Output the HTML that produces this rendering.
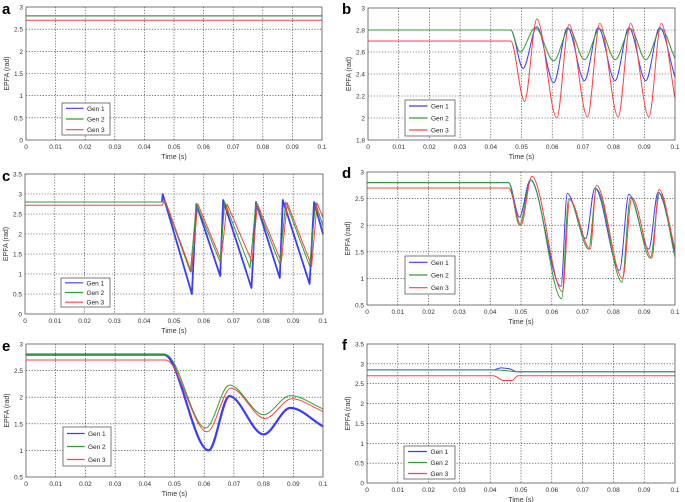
<!DOCTYPE html>
<html><head><meta charset="utf-8"><style>
body{margin:0;background:#fff;}
svg{display:block;font-family:"Liberation Sans",sans-serif;}
</style></head><body>
<svg id="fig" width="685" height="502" viewBox="0 0 685 502" xmlns="http://www.w3.org/2000/svg"></svg>
<script>
// Panel a
const aT1=[0,0.1], aG1=[2.8,2.8];
const aT2=[0,0.1], aG2=[2.8,2.8];
const aT3=[0,0.1], aG3=[2.7,2.7];
// Panel b
const bT1=[0,0.0465,0.0505,0.055,0.0605,0.065,0.0705,0.075,0.0805,0.085,0.0905,0.095,0.1];
const bG1=[2.8,2.8,2.45,2.83,2.32,2.82,2.34,2.82,2.34,2.82,2.34,2.82,2.37];
const bT2=[0,0.0465,0.0495,0.0545,0.0605,0.0655,0.0705,0.0755,0.0805,0.0855,0.0905,0.0955,0.1];
const bG2=[2.8,2.8,2.6,2.82,2.52,2.81,2.53,2.81,2.53,2.81,2.53,2.81,2.54];
const bT3=[0,0.0465,0.051,0.055,0.0615,0.0655,0.0715,0.0755,0.0815,0.0855,0.0915,0.0955,0.1];
const bG3=[2.7,2.7,2.15,2.9,2.0,2.85,2.01,2.86,2.01,2.86,2.01,2.86,2.18];
// Panel c
const cT1=[0.046,0.0462,0.056,0.0575,0.0655,0.0665,0.076,0.0775,0.0855,0.0865,0.0955,0.097,0.1];
const cG1=[2.8,3.0,0.5,2.75,0.95,2.85,0.65,2.8,0.9,2.85,0.75,2.8,2.0];
const cT2=[0,0.046,0.0468,0.0555,0.0575,0.0655,0.067,0.0755,0.0775,0.0855,0.0875,0.0955,0.0975,0.1];
const cG2=[2.8,2.8,2.85,1.05,2.75,1.3,2.8,1.15,2.78,1.25,2.8,1.2,2.78,2.2];
const cT3=[0,0.046,0.047,0.0558,0.058,0.0658,0.0678,0.0762,0.078,0.086,0.088,0.0962,0.098,0.1];
const cG3=[2.72,2.72,2.85,1.05,2.75,1.35,2.75,1.3,2.75,1.3,2.78,1.2,2.78,2.4];
// Panel d
const dT1=[0,0.046,0.0495,0.053,0.063,0.065,0.071,0.074,0.082,0.085,0.0915,0.0945,0.1];
const dG1=[2.8,2.8,2.15,2.85,0.85,2.6,1.75,2.7,1.15,2.58,1.55,2.62,1.5];
const dT2=[0,0.046,0.0495,0.0532,0.0632,0.0655,0.072,0.0745,0.0828,0.0855,0.092,0.095,0.1];
const dG2=[2.8,2.8,2.0,2.85,0.62,2.5,1.55,2.68,0.93,2.52,1.38,2.6,1.4];
const dT3=[0,0.046,0.05,0.0535,0.0635,0.0658,0.0725,0.0745,0.083,0.086,0.0925,0.0948,0.1];
const dG3=[2.7,2.7,2.0,2.92,0.75,2.48,1.55,2.75,1.0,2.52,1.38,2.67,1.55];
// Panel e
const eT1=[0,0.0465,0.0615,0.0685,0.08,0.089,0.1];
const eG1=[2.8,2.8,1.0,2.02,1.3,1.8,1.45];
const eT2=[0,0.047,0.0605,0.0685,0.08,0.089,0.1];
const eG2=[2.8,2.8,1.42,2.23,1.67,2.03,1.78];
const eT3=[0,0.047,0.061,0.069,0.0805,0.0895,0.1];
const eG3=[2.7,2.7,1.35,2.17,1.6,1.97,1.73];
// Panel f
const fT1=[0,0.041,0.0435,0.046,0.049,0.1];
const fG1=[2.85,2.85,2.9,2.88,2.8,2.8];
const fT2=[0,0.041,0.045,0.049,0.1];
const fG2=[2.85,2.85,2.83,2.8,2.8];
const fT3=[0,0.041,0.0445,0.047,0.049,0.1];
const fG3=[2.7,2.7,2.58,2.58,2.7,2.7];

const xTicks=[0,0.01,0.02,0.03,0.04,0.05,0.06,0.07,0.08,0.09,0.1];
const yTicksA=[0,0.5,1,1.5,2,2.5,3];
const yTicksB=[1.8,2,2.2,2.4,2.6,2.8,3];
const yTicksC=[0,0.5,1,1.5,2,2.5,3,3.5];
const yTicksD=[0.5,1,1.5,2,2.5,3];
const legendLabels=["Gen 1","Gen 2","Gen 3"];

const NS="http://www.w3.org/2000/svg";
const svg=document.getElementById('fig');
const COLORS=["#3b3bff","#2ea02e","#ff4040"];
function mk(tag,attrs,parent){const e=document.createElementNS(NS,tag);for(const k in attrs)e.setAttribute(k,attrs[k]);(parent||svg).appendChild(e);return e;}

const panels=[
 {id:'a',L:26,R:322,T:7,B:140,yt:yTicksA,s:[[aT1,aG1],[aT2,aG2],[aT3,aG3]],lg:[62,103,48,32],smooth:false,lx:2,ly:14},
 {id:'b',L:368,R:675,T:8,B:140,yt:yTicksB,s:[[bT1,bG1],[bT2,bG2],[bT3,bG3]],lg:[405,100,50,36],smooth:true,lx:342,ly:14},
 {id:'c',L:25,R:323,T:174,B:314,yt:yTicksC,s:[[cT1,cG1],[cT2,cG2],[cT3,cG3]],lg:[61,278,49,29],smooth:false,lx:2,ly:181,w1:1.8},
 {id:'d',L:367,R:675,T:172,B:305,yt:yTicksD,s:[[dT1,dG1],[dT2,dG2],[dT3,dG3]],lg:[405,256,50,38],smooth:true,lx:342,ly:178},
 {id:'e',L:26,R:323,T:344,B:477,yt:yTicksD,s:[[eT1,eG1],[eT2,eG2],[eT3,eG3]],lg:[63,427,48,39],smooth:true,lx:2,ly:351,w1:2.2},
 {id:'f',L:367,R:675,T:344,B:483,yt:yTicksC,s:[[fT1,fG1],[fT2,fG2],[fT3,fG3]],lg:[404,446,51,33],smooth:true,lx:342,ly:350}
];

function monoPath(pts){
 const n=pts.length;
 let d='M'+pts[0][0]+','+pts[0][1];
 if(n<3){for(let i=1;i<n;i++)d+=' L'+pts[i][0]+','+pts[i][1];return d;}
 const sl=[];for(let i=0;i<n-1;i++)sl.push((pts[i+1][1]-pts[i][1])/(pts[i+1][0]-pts[i][0]));
 const m=[];
 for(let i=0;i<n;i++){
  if(i===0)m.push(sl[0]===0?0:sl[0]);
  else if(i===n-1)m.push(sl[n-2]);
  else if(sl[i-1]*sl[i]<=0)m.push(0);
  else{const a=sl[i-1],b=sl[i];m.push(2/(1/a+1/b));}
 }
 for(let i=1;i<n;i++){
  const p1=pts[i-1],p2=pts[i],dx=p2[0]-p1[0];
  d+=` C${p1[0]+dx/3},${p1[1]+m[i-1]*dx/3} ${p2[0]-dx/3},${p2[1]-m[i]*dx/3} ${p2[0]},${p2[1]}`;
 }
 return d;
}

panels.forEach(p=>{
 const g=mk('g',{});
 
 
 const ymin=p.yt[0], ymax=p.yt[p.yt.length-1];
 const xs=v=>p.L+(v-0)/(0.1)*(p.R-p.L);
 const ys=v=>p.B-(v-ymin)/(ymax-ymin)*(p.B-p.T);
 const lab=mk('text',{x:p.lx,y:p.ly,'font-size':15,'font-weight':'bold',fill:'#000'},g);
 lab.textContent=p.id;
 
 
 mk('rect',{x:p.L,y:p.T,width:p.R-p.L,height:p.B-p.T,fill:'#fff',stroke:'none'},g);
 xTicks.forEach((t,i)=>{
  const x=xs(t);
  if(i>0&&i<xTicks.length-1){const l=mk('line',{x1:x,x2:x,y1:p.T,y2:p.B,stroke:'#222','stroke-width':0.6,'stroke-dasharray':'1.2,1.6'},g);
   }
  const tx=mk('text',{x:x,y:p.B+9,'font-size':6.5,'text-anchor':'middle',fill:'#333'},g);
  tx.textContent=String(t);
  
  
 });
 p.yt.forEach((t,i)=>{
  const y=ys(t);
  if(i>0&&i<p.yt.length-1){const l=mk('line',{x1:p.L,x2:p.R,y1:y,y2:y,stroke:'#222','stroke-width':0.6,'stroke-dasharray':'1.2,1.6'},g);
   }
  const tx=mk('text',{x:p.L-3,y:y+2.5,'font-size':6.5,'text-anchor':'end',fill:'#333'},g);
  tx.textContent=String(t);
  
  
 });
 const xt=mk('text',{x:(p.L+p.R)/2,y:p.B+19,'font-size':7,'text-anchor':'middle',fill:'#333'},g);
 xt.textContent='Time (s)';
 
 
 const cy=(p.T+p.B)/2, cx=p.L-17;
 const yt=mk('text',{x:cx,y:cy,'font-size':7,'text-anchor':'middle',fill:'#333',transform:`rotate(-90 ${cx} ${cy})`},g);
 yt.textContent='EPFA (rad)';
 
 
 p.s.forEach((s,k)=>{
  const [T,V]=s;
  const pts=T.map((t,i)=>[xs(t),ys(V[i])]);
  let d;
  if(p.smooth) d=monoPath(pts);
  else {d='M'+pts[0][0]+','+pts[0][1];for(let i=1;i<pts.length;i++)d+=' L'+pts[i][0]+','+pts[i][1];}
  const w=(k===0&&p.w1)?p.w1:1;
  const path=mk('path',{d:d,fill:'none',stroke:COLORS[k],'stroke-width':w,'stroke-linejoin':'round'},g);
  
  
 });
 mk('rect',{x:p.L,y:p.T,width:p.R-p.L,height:p.B-p.T,fill:'none',stroke:'#555','stroke-width':0.8},g);
 const [lx,ly,lw,lh]=p.lg;
 const lgG=mk('g',{},g);
 
 
 mk('rect',{x:lx,y:ly,width:lw,height:lh,fill:'#fff',stroke:'#444','stroke-width':0.7},lgG);
 legendLabels.forEach((n,k)=>{
  const yy=ly+lh*(k+0.5)/3;
  mk('line',{x1:lx+4,x2:lx+lw*0.45,y1:yy,y2:yy,stroke:COLORS[k],'stroke-width':1.2},lgG);
  const t=mk('text',{x:lx+lw*0.52,y:yy+2.5,'font-size':6.5,fill:'#222'},lgG);
  t.textContent=n;
  
  
 });
});
</script>
</body></html>
